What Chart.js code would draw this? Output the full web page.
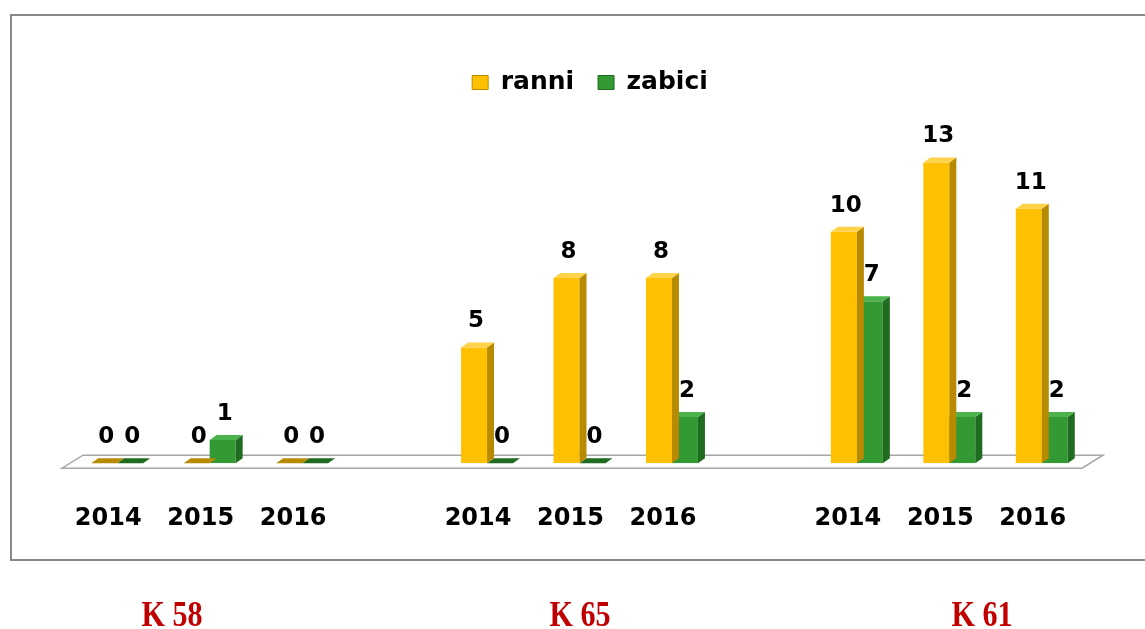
<!DOCTYPE html>
<html>
<head>
<meta charset="utf-8">
<script src="https://cdn.jsdelivr.net/npm/chart.js@4/dist/chart.umd.min.js"></script>
<style>
    body { margin: 0; background: #fff; width: 1145px; height: 629px; overflow: hidden; position: relative; }
    #ramka { position: absolute; left: 10px; top: 14px; width: 1150px; height: 543px;
             border-left: 2px solid #888; border-top: 2px solid #888; border-bottom: 2px solid #888; }
    #wykres { position: absolute; left: 0; top: 0; }
    .grupa { position: absolute; top: 597px; font: bold 35px/1 "Liberation Serif", serif; color: #c00000;
             transform: translateX(-50%) scaleX(0.86); white-space: nowrap; }
</style>
</head>
<body>
<div id="ramka"></div>
<canvas id="wykres" width="1145" height="629"></canvas>
<div class="grupa" style="left:172px">K 58</div>
<div class="grupa" style="left:580px">K 65</div>
<div class="grupa" style="left:982px">K 61</div>

<script>
// dane
const lata = ["2014", "2015", "2016", "", "2014", "2015", "2016", "", "2014", "2015", "2016"];
const ranni = [0, 0, 0, null, 5, 8, 8, null, 10, 13, 11];
const zabici = [0, 1, 0, null, 0, 0, 2, null, 7, 2, 2];

const przod = ["#ffc000", "#339933"];
const bok = ["#b88a00", "#1f6b1f"];
const gora = ["#ffd24a", "#4cb34c"];

const GLEB = 7;   // przesuniecie 3D w prawo
const WZN = 5;    // przesuniecie 3D w gore

// podloga + boki/gora slupkow
const efekt3d = {
    id: "efekt3d",
    beforeDatasetsDraw(chart) {
        const ctx = chart.ctx;
        const a = chart.chartArea;
        const y0 = chart.scales.y.getPixelForValue(0);
        ctx.save();
        ctx.beginPath();
        ctx.moveTo(a.left - 9, y0 + 5);
        ctx.lineTo(a.right - 6, y0 + 5);
        ctx.lineTo(a.right + 15, y0 - 8);
        ctx.lineTo(a.left + 12, y0 - 8);
        ctx.closePath();
        ctx.fillStyle = "#fff";
        ctx.fill();
        ctx.strokeStyle = "#a6a6a6";
        ctx.lineWidth = 1.5;
        ctx.stroke();
        ctx.restore();
    },
    afterDatasetDraw(chart, args) {
        const ctx = chart.ctx;
        const i = args.index;
        ctx.save();
        args.meta.data.forEach((bar, j) => {
            if (chart.data.datasets[i].data[j] === null) return;
            const p = bar.getProps(["x", "y", "base", "width"], true);
            const l = p.x - p.width / 2;
            const r = p.x + p.width / 2;

            ctx.fillStyle = bok[i];
            ctx.beginPath();
            ctx.moveTo(r, p.base);
            ctx.lineTo(r + GLEB, p.base - WZN);
            ctx.lineTo(r + GLEB, p.y - WZN);
            ctx.lineTo(r, p.y);
            ctx.closePath();
            ctx.fill();

            ctx.fillStyle = p.base - p.y < 1 ? bok[i] : gora[i];
            ctx.beginPath();
            ctx.moveTo(l, p.y);
            ctx.lineTo(l + GLEB, p.y - WZN);
            ctx.lineTo(r + GLEB, p.y - WZN);
            ctx.lineTo(r, p.y);
            ctx.closePath();
            ctx.fill();
        });
        ctx.restore();
    },
    afterDatasetsDraw(chart) {
        const ctx = chart.ctx;
        ctx.save();
        ctx.font = "bold 23px 'DejaVu Sans', sans-serif";
        ctx.fillStyle = "#000";
        ctx.textAlign = "center";
        ctx.textBaseline = "middle";
        chart.data.datasets.forEach((ds, i) => {
            chart.getDatasetMeta(i).data.forEach((bar, j) => {
                if (ds.data[j] === null) return;
                ctx.fillText(ds.data[j], bar.x + 2, bar.y - 26);
            });
        });
        ctx.restore();
    }
};

Chart.defaults.color = "#000";

new Chart(document.getElementById("wykres"), {
    type: "bar",
    data: {
        labels: lata,
        datasets: [
            { label: "ranni", data: ranni, backgroundColor: przod[0], borderWidth: 0 },
            { label: "zabici", data: zabici, backgroundColor: przod[1], borderWidth: 0 }
        ]
    },
    options: {
        responsive: false,
        animation: false,
        layout: { padding: { left: 71, right: 36, top: 46, bottom: 55 } },
        datasets: { bar: { barPercentage: 1, categoryPercentage: 0.562 } },
        scales: {
            x: {
                grid: { display: false, drawTicks: false },
                border: { display: false },
                ticks: {
                    padding: 41,
                    labelOffset: -9,
                    font: { family: "'DejaVu Sans', sans-serif", size: 24, weight: "bold" }
                }
            },
            y: {
                position: "right",
                min: 0,
                max: 15.48,
                grid: { display: false, drawTicks: false },
                border: { display: false },
                ticks: { display: false },
                afterFit: s => { s.width = 21; }
            }
        },
        plugins: {
            tooltip: { enabled: false },
            legend: {
                position: "top",
                labels: {
                    boxWidth: 16,
                    boxHeight: 14,
                    padding: 24,
                    font: { family: "'DejaVu Sans', sans-serif", size: 25, weight: "bold" },
                    generateLabels: chart => Chart.defaults.plugins.legend.labels.generateLabels(chart)
                        .map(l => ({ ...l, lineWidth: 1, strokeStyle: bok[l.datasetIndex] }))
                }
            }
        }
    },
    plugins: [efekt3d]
});
</script>
</body>
</html>
